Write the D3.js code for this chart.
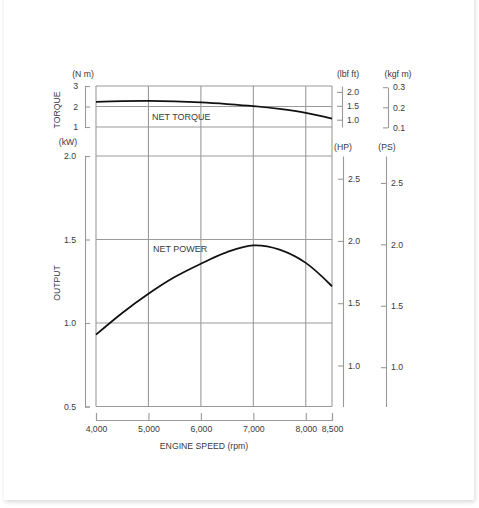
<!DOCTYPE html>
<html>
<head>
<meta charset="utf-8">
<script src="https://cdn.jsdelivr.net/npm/d3@7"></script>
<style>
  body { margin: 0; background: #fff; }
  text { font-family: "Liberation Sans", Arial, sans-serif; fill: #3a3a3a; }
</style>
</head>
<body>
<div id="chart"></div>
<script>
// engine speed (rpm)
const rpm = [4000, 4500, 5000, 5500, 6000, 6500, 7000, 7500, 8000, 8500];
// net torque (N m)
const torque = [2.23, 2.26, 2.27, 2.25, 2.2, 2.12, 2.02, 1.88, 1.69, 1.41];
// net power (kW)
const power = [0.93, 1.06, 1.175, 1.275, 1.355, 1.425, 1.465, 1.44, 1.36, 1.22];

const rpmTicks = [4000, 5000, 6000, 7000, 8000, 8500];
const nmTicks = [1, 2, 3];
const lbfTicks = [1.0, 1.5, 2.0];
const kgfTicks = [0.1, 0.2, 0.3];
const kwTicks = [0.5, 1.0, 1.5, 2.0];
const hpTicks = [1.0, 1.5, 2.0, 2.5];
const psTicks = [1.0, 1.5, 2.0, 2.5];

const NM_PER_LBF = 1.3558, NM_PER_KGF = 9.80665;
const KW_PER_HP = 0.7457, KW_PER_PS = 0.7355;

const W = 479, H = 508;
const svg = d3.select("#chart").append("svg")
  .attr("width", W).attr("height", H);

// card with soft shadow
const defs = svg.append("defs");
defs.append("filter").attr("id", "shadow")
  .attr("x", "-5%").attr("y", "-5%").attr("width", "110%").attr("height", "110%")
  .append("feDropShadow")
  .attr("dx", 1).attr("dy", 2).attr("stdDeviation", 2)
  .attr("flood-color", "#000").attr("flood-opacity", 0.15);
svg.append("rect")
  .attr("x", 4).attr("y", -6).attr("width", 470).attr("height", 506)
  .attr("fill", "#fff").attr("filter", "url(#shadow)");

const x = d3.scaleLinear().domain([4000, 8500]).range([96, 332]);
const yT = d3.scaleLinear().domain([1, 3]).range([127, 86]);
const yP = d3.scaleLinear().domain([0.5, 2.0]).range([406.5, 156]);

const gridColor = "#9a9a9a";
const grid = svg.append("g").attr("stroke", gridColor).attr("stroke-width", 1.1);

// vertical grid lines through both panels
grid.selectAll(".v").data(rpmTicks).join("line")
  .attr("x1", d => x(d)).attr("x2", d => x(d))
  .attr("y1", yT(3)).attr("y2", yP(0.5));

// horizontal grid lines
grid.selectAll(".ht").data(nmTicks).join("line")
  .attr("x1", x(4000)).attr("x2", x(8500))
  .attr("y1", d => yT(d)).attr("y2", d => yT(d));
grid.selectAll(".hp").data(kwTicks).join("line")
  .attr("x1", x(4000)).attr("x2", x(8500))
  .attr("y1", d => yP(d)).attr("y2", d => yP(d));

function styleAxis(g) {
  g.selectAll("path, line").attr("stroke", gridColor).attr("stroke-width", 1.1);
  g.selectAll("text").attr("font-size", 8.7).attr("fill", "#3a3a3a")
    .style("font-family", "'Liberation Sans', Arial, sans-serif");
}

// left axes (brackets)
svg.append("g").attr("transform", "translate(85,0)")
  .call(d3.axisLeft(yT).tickValues(nmTicks).tickFormat(d3.format("d"))
    .tickSizeInner(-5).tickSizeOuter(-5).tickPadding(7))
  .call(styleAxis);
svg.append("g").attr("transform", "translate(85,0)")
  .call(d3.axisLeft(yP).tickValues(kwTicks).tickFormat(d3.format(".1f"))
    .tickSizeInner(-5).tickSizeOuter(-5).tickPadding(9))
  .call(styleAxis);

// right torque axes
const yLbf = d3.scaleLinear().domain([1 / NM_PER_LBF, 3 / NM_PER_LBF]).range(yT.range());
svg.append("g").attr("transform", "translate(342,0)")
  .call(d3.axisRight(yLbf).tickValues(lbfTicks).tickFormat(d3.format(".1f"))
    .tickSizeInner(-5).tickSizeOuter(0).tickPadding(5))
  .call(styleAxis);

const yKgf = d3.scaleLinear()
  .domain([0.1, 0.3]).range([yT(0.1 * NM_PER_KGF), yT(0.3 * NM_PER_KGF)]);
svg.append("g").attr("transform", "translate(388,0)")
  .call(d3.axisRight(yKgf).tickValues(kgfTicks).tickFormat(d3.format(".1f"))
    .tickSizeInner(-5).tickSizeOuter(0).tickPadding(5))
  .call(styleAxis);

// right power axes
const yHp = d3.scaleLinear().domain([0.5 / KW_PER_HP, 2.0 / KW_PER_HP]).range(yP.range());
svg.append("g").attr("transform", "translate(343,0)")
  .call(d3.axisRight(yHp).tickValues(hpTicks).tickFormat(d3.format(".1f"))
    .tickSizeInner(-5).tickSizeOuter(0).tickPadding(5))
  .call(styleAxis);

const yPs = d3.scaleLinear().domain([0.5 / KW_PER_PS, 2.0 / KW_PER_PS]).range(yP.range());
svg.append("g").attr("transform", "translate(386,0)")
  .call(d3.axisRight(yPs).tickValues(psTicks).tickFormat(d3.format(".1f"))
    .tickSizeInner(-5).tickSizeOuter(0).tickPadding(5))
  .call(styleAxis);

// bottom axis bracket
svg.append("g").attr("transform", "translate(0,420)")
  .call(d3.axisBottom(x).tickValues(rpmTicks).tickFormat(d3.format(","))
    .tickSizeInner(-7).tickSizeOuter(-7).tickPadding(6))
  .call(styleAxis);

// curves
const lineT = d3.line().x((d, i) => x(rpm[i])).y(d => yT(d)).curve(d3.curveCatmullRom.alpha(0.5));
const lineP = d3.line().x((d, i) => x(rpm[i])).y(d => yP(d)).curve(d3.curveCatmullRom.alpha(0.5));
svg.append("path").attr("d", lineT(torque))
  .attr("fill", "none").attr("stroke", "#111").attr("stroke-width", 1.8);
svg.append("path").attr("d", lineP(power))
  .attr("fill", "none").attr("stroke", "#111").attr("stroke-width", 1.8);

// texts
const label = (t, px, py, opts = {}) => svg.append("text")
  .attr("x", px).attr("y", py)
  .attr("font-size", opts.size || 8.7)
  .attr("text-anchor", opts.anchor || "middle")
  .attr("dominant-baseline", "middle")
  .attr("transform", opts.rotate ? `rotate(-90,${px},${py})` : null)
  .text(t);

label("NET TORQUE", 152, 118, { anchor: "start", size: 9 });
label("NET POWER", 153, 250, { anchor: "start", size: 9 });
label("(N m)", 83, 75);
label("(kW)", 68, 143);
label("(lbf ft)", 348, 75);
label("(kgf m)", 398, 75);
label("(HP)", 343, 148);
label("(PS)", 387, 148);
label("TORQUE", 58, 110, { rotate: true });
label("OUTPUT", 58, 283, { rotate: true });
label("ENGINE SPEED (rpm)", 204, 447);
</script>
</body>
</html>
